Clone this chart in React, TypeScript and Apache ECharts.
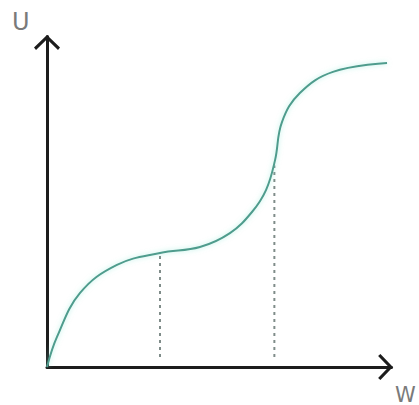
import React, { useEffect, useRef } from "react";
import * as echarts from "echarts";

// Curve U(W) (arbitrary units 0..10)
const wValues = [0, 0.29, 0.96, 2.03, 3.28, 4.44, 5.31, 5.95, 6.36, 6.62, 6.82, 7.34, 8.3, 9.87];
const uValues = [0, 0.91, 2.24, 3.09, 3.45, 3.63, 4.05, 4.69, 5.36, 6.26, 7.41, 8.29, 8.93, 9.2];

// Dashed drop lines: [W, U top]
const dropLines = [
  [3.28, 3.45],
  [6.6, 6.1],
];
const dropBottom = 0.3;

const axisNames = ["W", "U"];

const chevron = "path://M13 0 L26 12.5 L24 14.8 L13 4.2 L2 14.8 L0 12.5 Z";

export default function App() {
  const ref = useRef<HTMLDivElement>(null);
  useEffect(() => {
    if (!ref.current) return;
    const chart = echarts.init(ref.current, undefined, { renderer: "svg" });
    const axisCommon = {
      type: "value" as const,
      min: 0,
      max: 10,
      axisTick: { show: false },
      axisLabel: { show: false },
      splitLine: { show: false },
      axisLine: {
        show: true,
        onZero: false,
        symbol: ["none", chevron],
        symbolSize: [26, 15],
        symbolOffset: [0, -6],
        lineStyle: { color: "#1c1c1c", width: 3 },
      },
    };
    const series: any[] = [
      {
        type: "line",
        data: wValues.map((w, i) => [w, uValues[i]]),
        smooth: 0.4,
        showSymbol: false,
        lineStyle: {
          color: "#4f9c8d",
          width: 2,
          shadowColor: "rgba(130,230,210,0.6)",
          shadowBlur: 5,
        },
        z: 3,
      },
    ];
    dropLines.forEach(([w, u]) => {
      series.push({
        type: "line",
        data: [
          [w, dropBottom],
          [w, u],
        ],
        showSymbol: false,
        lineStyle: { color: "#7f8c89", width: 2, type: [3, 4] },
        z: 2,
      });
    });
    chart.setOption({
      animation: false,
      backgroundColor: "#ffffff",
      grid: { left: 47, right: 27.5, top: 36.5, bottom: 38 },
      xAxis: { ...axisCommon },
      yAxis: { ...axisCommon },
      series,
      graphic: [
        {
          type: "text",
          left: 12,
          top: 10,
          style: {
            text: axisNames[1],
            fill: "#7a7a7a",
            font: "24px 'DejaVu Sans', sans-serif",
          },
        },
        {
          type: "text",
          left: 395,
          top: 384,
          style: {
            text: axisNames[0],
            fill: "#7a7a7a",
            font: "21px 'DejaVu Sans', sans-serif",
          },
        },
      ],
    });
    return () => chart.dispose();
  }, []);
  return <div ref={ref} style={{ width: 419, height: 405, position: "absolute", left: 0, top: 0 }} />;
}
